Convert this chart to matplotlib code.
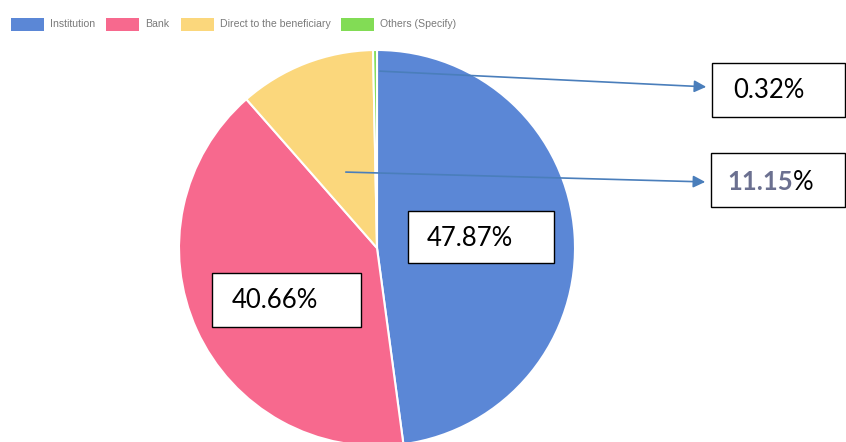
import matplotlib.pyplot as plt
from matplotlib.patches import Rectangle, FancyArrowPatch

# Data
labels = ["Institution", "Bank", "Direct to the beneficiary", "Others (Specify)"]
shares = [47.87, 40.66, 11.15, 0.32]
colors = ["#5b87d6", "#f7698e", "#fbd77c", "#82dc55"]

W, H = 846, 442
fig = plt.figure(figsize=(W / 100, H / 100), dpi=100)
plt.rcParams["font.family"] = ["Lato", "DejaVu Sans"]


def fx(px):
    return px / W


def fy(py):
    return 1 - py / H


# Pie axes: pie spans x 180..576, y 50..446 in pixels
ax = fig.add_axes([fx(179), fy(446), 396 / W, 396 / H])
wedges, _ = ax.pie(shares, colors=colors, startangle=90, counterclock=False,
                   wedgeprops=dict(edgecolor="white", linewidth=1.5))
ax.set_xlim(-1, 1)
ax.set_ylim(-1, 1)
ax.set_aspect("equal")
ax.axis("off")

# Legend (manual, top row)
leg_x = [11, 106, 181, 341]
for x0, lab, c in zip(leg_x, labels, colors):
    fig.patches.append(Rectangle((fx(x0), fy(31)), 33 / W, 13 / H, transform=fig.transFigure,
                                 facecolor=c, edgecolor="none"))
    fig.text(fx(x0 + 39), fy(24), lab, fontsize=7.6, color="#7a7a7a", va="center",
             family=["Liberation Sans Narrow", "Liberation Sans"])

# Annotation boxes
def box(x0, y0, x1, y1):
    fig.patches.append(Rectangle((fx(x0), fy(y1)), (x1 - x0) / W, (y1 - y0) / H,
                                 transform=fig.transFigure, facecolor="white",
                                 edgecolor="black", linewidth=1.0, zorder=5))


box(408, 211, 554, 263)
fig.text(fx(427), fy(238), f"{shares[0]:.2f}%", fontsize=18.5, va="center", zorder=6)

box(212, 273, 361, 327)
fig.text(fx(232), fy(301), f"{shares[1]:.2f}%", fontsize=18.5, va="center", zorder=6)

box(712, 63, 845, 117)
fig.text(fx(733), fy(90), f"{shares[3]:.2f}%", fontsize=18.5, va="center", zorder=6)

box(711, 153, 845, 207)
t = fig.text(fx(727), fy(182), f"{shares[2]:.2f}", fontsize=18.5, va="center",
             fontweight="bold", color="#6b7090", zorder=6)
fig.canvas.draw()
bb = t.get_window_extent()
fig.text(bb.x1 / W, fy(182), "%", fontsize=18.5, va="center", zorder=6)

# Arrows
arrow_kw = dict(arrowstyle="-|>", color="#4a7ebb", lw=1.2, mutation_scale=18)
fig.add_artist(FancyArrowPatch((fx(377), fy(71)), (fx(709), fy(87)),
                               transform=fig.transFigure, **arrow_kw))
fig.add_artist(FancyArrowPatch((fx(343), fy(172)), (fx(708), fy(182)),
                               transform=fig.transFigure, **arrow_kw))

plt.savefig("out.png", dpi=100)
plt.close(fig)
